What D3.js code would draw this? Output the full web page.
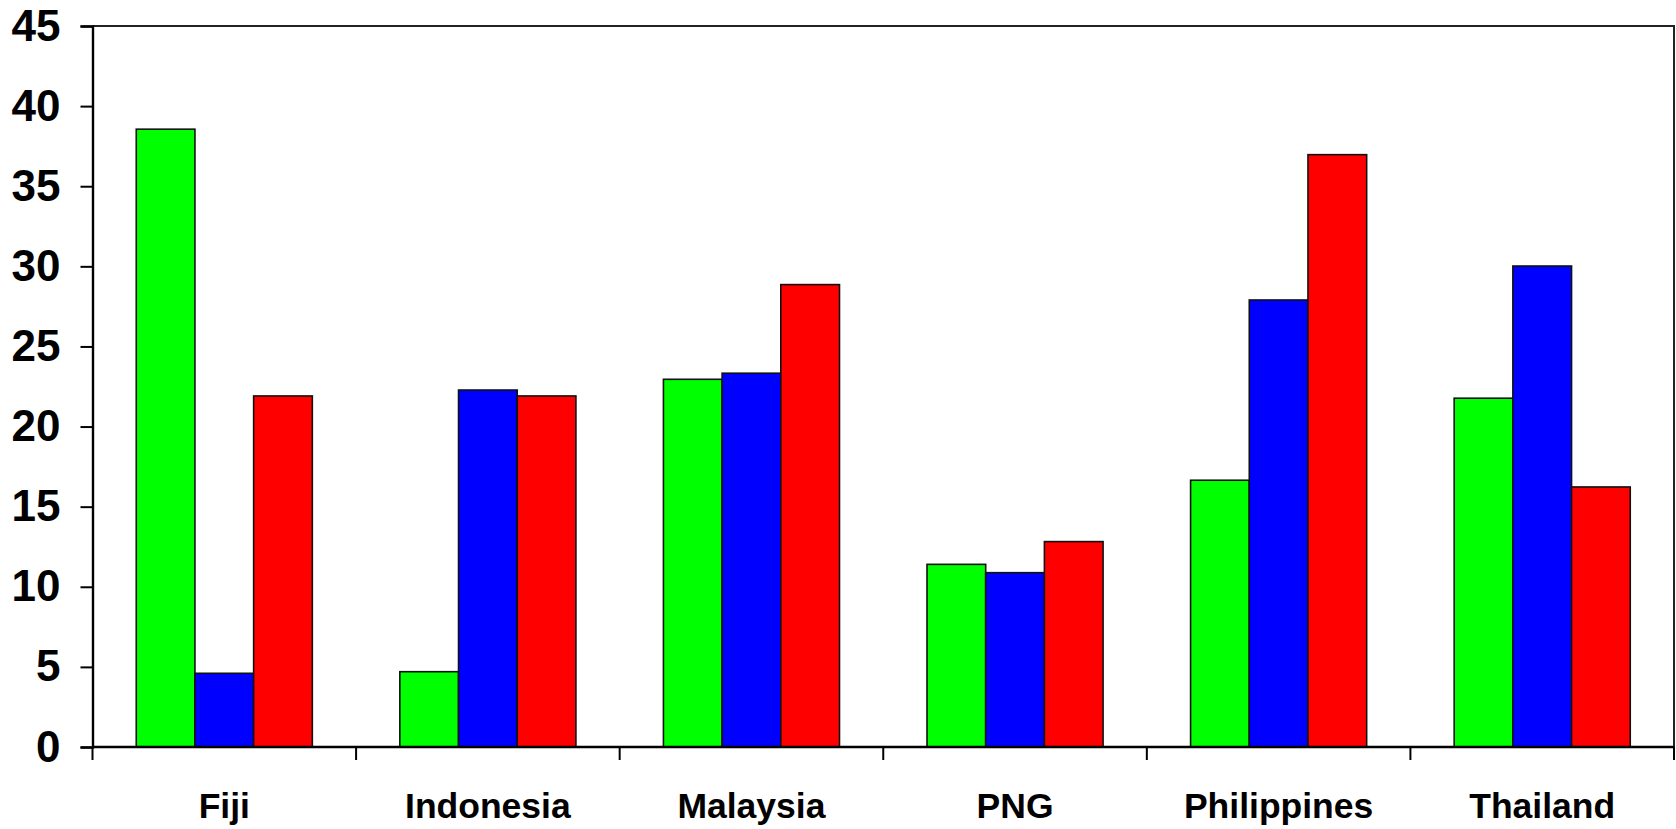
<!DOCTYPE html>
<html>
<head>
<meta charset="utf-8">
<script src="https://cdn.jsdelivr.net/npm/d3@7"></script>
<style>
  html, body { margin: 0; padding: 0; background: #fff; }
  svg { display: block; font-family: "Liberation Sans", Arial, sans-serif; font-weight: bold; }
</style>
</head>
<body>
<svg id="chart" width="1676" height="829"></svg>
<script>
// data
let countries = ["Fiji", "Indonesia", "Malaysia", "PNG", "Philippines", "Thailand"];
let seriesNames = ["green", "blue", "red"];
let greenValues = [38.56, 4.7, 22.95, 11.4, 16.65, 21.77];
let blueValues = [4.6, 22.28, 23.33, 10.88, 27.9, 30.02];
let redValues = [21.91, 21.91, 28.86, 12.82, 36.97, 16.23];
let yTicks = [0, 5, 10, 15, 20, 25, 30, 35, 40, 45];

let colors = { green: "#00ff00", blue: "#0000ff", red: "#ff0000" };

let plotLeft = 92.5, plotRight = 1674, plotTop = 26, plotBottom = 747;

let svg = d3.select("#chart");

let x = d3.scaleBand()
    .domain(countries)
    .range([plotLeft, plotRight])
    .paddingInner(0.332)
    .paddingOuter(0.166);

let xSub = d3.scaleBand()
    .domain(seriesNames)
    .range([0, x.bandwidth()]);

let y = d3.scaleLinear().domain([0, 45]).range([plotBottom, plotTop]);

// bars
let rows = countries.map((c, i) => ({
    country: c,
    values: [
        { key: "green", v: greenValues[i] },
        { key: "blue", v: blueValues[i] },
        { key: "red", v: redValues[i] }
    ]
}));

let groups = svg.append("g").selectAll("g")
    .data(rows)
    .enter().append("g")
    .attr("transform", d => "translate(" + x(d.country) + ",0)");

groups.selectAll("rect")
    .data(d => d.values)
    .enter().append("rect")
    .attr("x", d => xSub(d.key))
    .attr("width", xSub.bandwidth())
    .attr("y", d => y(d.v))
    .attr("height", d => y(0) - y(d.v))
    .attr("fill", d => colors[d.key])
    .attr("stroke", "#111")
    .attr("stroke-width", 1.6);

// frame (top and right)
svg.append("path")
    .attr("d", "M" + plotLeft + "," + plotTop + "H" + plotRight + "V" + plotBottom)
    .attr("fill", "none")
    .attr("stroke", "#222")
    .attr("stroke-width", 2);

// y axis
let yAxis = svg.append("g")
    .attr("transform", "translate(" + plotLeft + ",0)")
    .call(d3.axisLeft(y).tickValues(yTicks).tickSize(12).tickPadding(20));
yAxis.select(".domain").attr("stroke", "#000").attr("stroke-width", 2.4);
yAxis.selectAll(".tick line").attr("stroke", "#000").attr("stroke-width", 2);
yAxis.selectAll(".tick text")
    .attr("font-family", "'Liberation Sans', Arial, sans-serif")
    .attr("font-weight", "bold")
    .attr("font-size", 44)
    .attr("fill", "#000");

// x axis: ticks at category boundaries
let halfGap = (x.step() - x.bandwidth()) / 2;
let boundaries = countries.map(c => x(c) - halfGap);
boundaries.push(plotRight);

let xAxis = svg.append("g");
xAxis.append("line")
    .attr("x1", plotLeft).attr("x2", plotRight)
    .attr("y1", y(0)).attr("y2", y(0))
    .attr("stroke", "#000").attr("stroke-width", 2.4);
xAxis.selectAll(".xtick")
    .data(boundaries)
    .enter().append("line")
    .attr("class", "xtick")
    .attr("x1", d => d).attr("x2", d => d)
    .attr("y1", y(0)).attr("y2", y(0) + 13)
    .attr("stroke", "#000").attr("stroke-width", 2);
xAxis.selectAll(".xlabel")
    .data(countries)
    .enter().append("text")
    .attr("class", "xlabel")
    .attr("x", d => x(d) + x.bandwidth() / 2)
    .attr("y", 818)
    .attr("text-anchor", "middle")
    .attr("font-size", 35.5)
    .attr("fill", "#000")
    .text(d => d);
</script>
</body>
</html>
